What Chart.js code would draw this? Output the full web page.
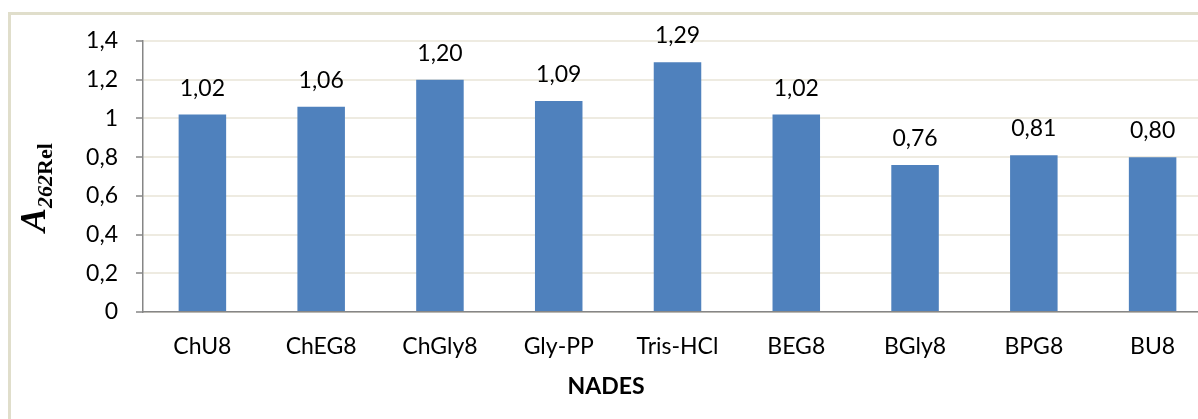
<!DOCTYPE html>
<html>
<head>
<meta charset="utf-8">
<script src="https://cdn.jsdelivr.net/npm/chart.js@4.4.1/dist/chart.umd.min.js"></script>
<style>
  html, body { margin: 0; padding: 0; background: #fff; overflow: hidden; }
  #wrap { position: relative; width: 1216px; height: 419px; }
  #frame { position: absolute; left: 8px; top: 12px; width: 1300px; height: 500px;
           border: 3px solid #E0DECB; box-sizing: border-box; pointer-events: none; }
  canvas { position: absolute; left: 0; top: 0; }
</style>
</head>
<body>
<div id="wrap">
  <canvas id="myChart" width="1216" height="419"></canvas>
  <div id="frame"></div>
</div>
<script>
var categories = ['ChU8', 'ChEG8', 'ChGly8', 'Gly-PP', 'Tris-HCl', 'BEG8', 'BGly8', 'BPG8', 'BU8'];
var values = [1.02, 1.06, 1.20, 1.09, 1.29, 1.02, 0.76, 0.81, 0.80];
var yTicks = [0, 0.2, 0.4, 0.6, 0.8, 1, 1.2, 1.4];

var FONT = 'Lato';

function comma(v, d) {
    return (d == null ? String(Math.round(v * 10) / 10) : v.toFixed(d)).replace('.', ',');
}

// value labels above the bars
var barLabels = {
    id: 'barLabels',
    afterDatasetsDraw: function(chart) {
        var ctx = chart.ctx;
        var meta = chart.getDatasetMeta(0);
        ctx.save();
        ctx.font = '23px ' + FONT;
        ctx.fillStyle = '#000';
        ctx.textAlign = 'center';
        ctx.textBaseline = 'alphabetic';
        meta.data.forEach(function(bar, i) {
            ctx.fillText(comma(values[i], 2), bar.x, bar.y - 19);
        });
        ctx.restore();
    }
};

// rotated y title: A with subscript 262Rel
var yTitle = {
    id: 'yTitle',
    afterDraw: function(chart) {
        var ctx = chart.ctx;
        ctx.save();
        ctx.translate(45, 232);
        ctx.rotate(-Math.PI / 2);
        ctx.fillStyle = '#000';
        ctx.textAlign = 'left';
        ctx.textBaseline = 'alphabetic';
        ctx.font = 'italic bold 36px "Liberation Serif"';
        ctx.fillText('A', 0, 0);
        var x = ctx.measureText('A').width;
        ctx.font = 'italic bold 22px "Liberation Serif"';
        ctx.fillText('262', x, 7);
        x += ctx.measureText('262').width;
        ctx.font = 'bold 22px "Liberation Serif"';
        ctx.fillText('Rel', x, 7);
        ctx.restore();
    }
};

var ctx = document.getElementById('myChart');
var myChart = new Chart(ctx, {
    type: 'bar',
    data: {
        labels: categories,
        datasets: [{
            data: values,
            backgroundColor: '#4F81BD',
            barPercentage: 0.4,
            categoryPercentage: 1
        }]
    },
    options: {
        responsive: false,
        animation: false,
        layout: { padding: { top: 41, left: 0, right: 4, bottom: 0 } },
        plugins: {
            legend: { display: false },
            tooltip: { enabled: false },
            title: {
                display: true,
                position: 'bottom',
                text: 'NADES',
                color: '#000',
                font: { family: FONT, size: 23, weight: 'bold', lineHeight: 1.2 },
                padding: { top: 0, bottom: 19 }
            }
        },
        scales: {
            x: {
                grid: { display: false, drawTicks: false },
                border: { display: true, color: '#868686', width: 1.5 },
                ticks: { color: '#000', padding: 21, font: { family: FONT, size: 23 } },
                afterFit: function(s) { s.height = 60.4; }
            },
            y: {
                min: 0,
                max: 1.4,
                afterBuildTicks: function(s) { s.ticks = yTicks.map(function(v) { return { value: v }; }); },
                grid: { color: '#EEEBE1', lineWidth: 2, tickColor: '#868686', tickLength: 7, tickWidth: 1.5 },
                border: { display: true, color: '#868686', width: 1.5 },
                ticks: {
                    color: '#000',
                    padding: 18,
                    font: { family: FONT, size: 23 },
                    callback: function(v) { return comma(v); }
                },
                afterFit: function(s) { s.width = 143; }
            }
        }
    },
    plugins: [barLabels, yTitle]
});
</script>
</body>
</html>
